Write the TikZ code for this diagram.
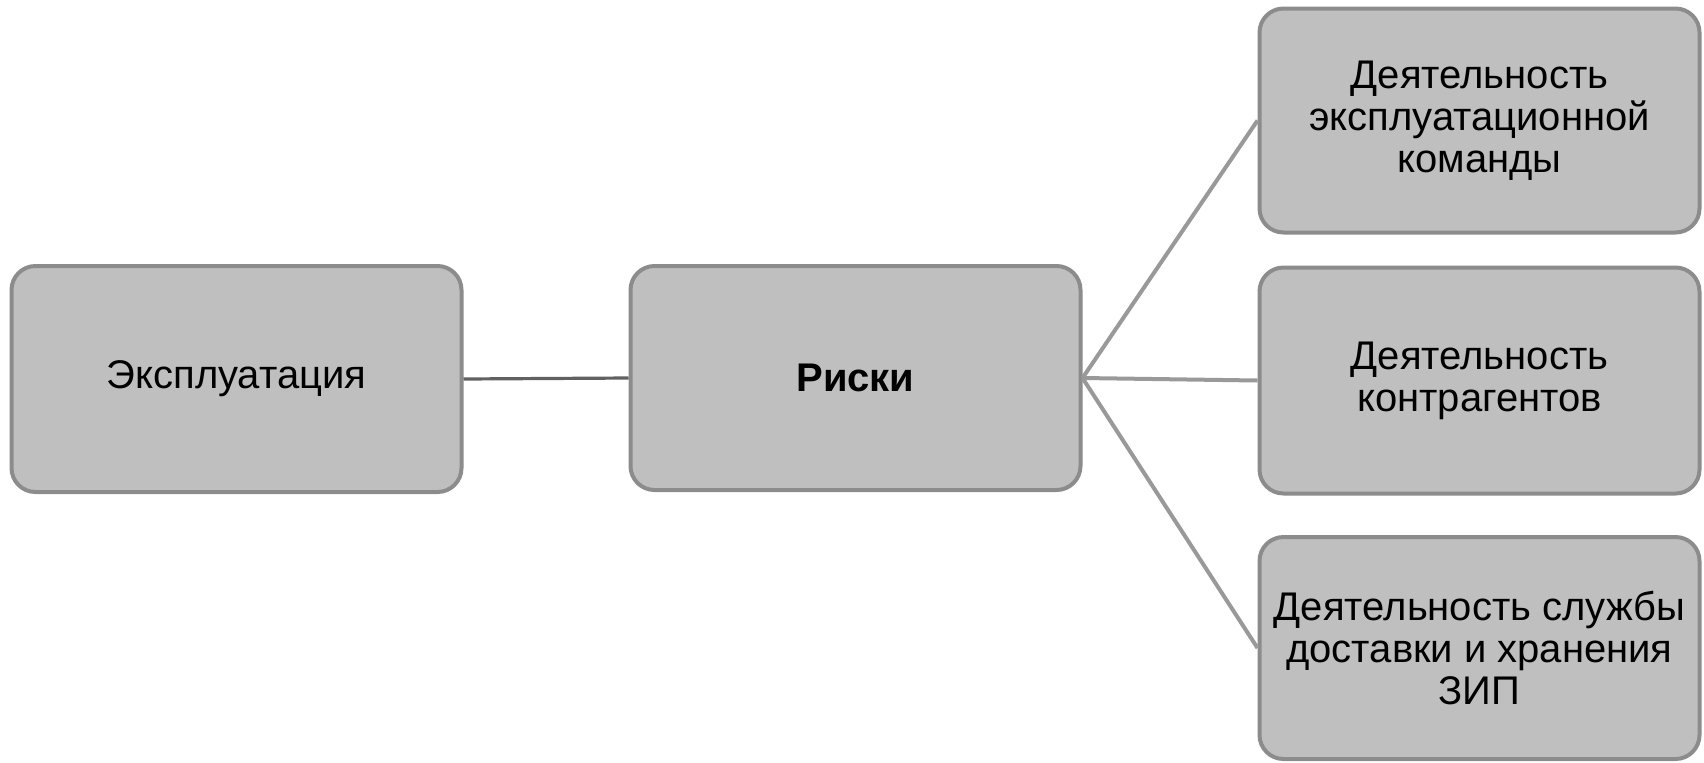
\documentclass[tikz,border=0pt]{standalone}
\usepackage{fontspec}
\setmainfont{Liberation Sans}
\usetikzlibrary{positioning}

\begin{document}
\begin{tikzpicture}[
            x=0.5pt,y=-0.5pt,
            block/.style={draw=blockline,fill=blockfill,line width=2pt,rounded corners=12pt,
                align=center,inner sep=0pt,text=black,
                font=\fontsize{20pt}{21pt}\selectfont},
            link/.style={line width=2pt,draw=linkgray},
            mainlink/.style={line width=1.6pt,draw=darkgray}
        ]
            \colorlet{blockfill}{black!25}
            \colorlet{blockline}{black!45}
            \colorlet{linkgray}{black!40}
            \colorlet{darkgray}{black!62}
            \useasboundingbox (0,0) rectangle (1704,762);
            % left part
            \node [block,minimum width=225pt,minimum height=113pt] (expl) at (236.5,379) {Эксплуатация};
            \node [block,minimum width=225pt,minimum height=112pt] (risks) at (855.5,378) {\bfseries Риски};
            % right column
            \node [block,minimum width=220pt,minimum height=112pt] (team) at (1479.5,120.5)
                {Деятельность\\эксплуатационной\\команды};
            \node [block,minimum width=220pt,minimum height=113pt] (contr) at (1479.5,380.5)
                {Деятельность\\контрагентов};
            \node [block,minimum width=220pt,minimum height=111pt] (zip) at (1479.5,648)
                {Деятельность службы\\доставки и хранения\\ЗИП};
            \draw [mainlink] (expl.east) -- (risks.west);
            \foreach \x in {team,contr,zip} {
                \draw [link] (risks.east) -- (\x.west);
            }
        \end{tikzpicture}
\end{document}
